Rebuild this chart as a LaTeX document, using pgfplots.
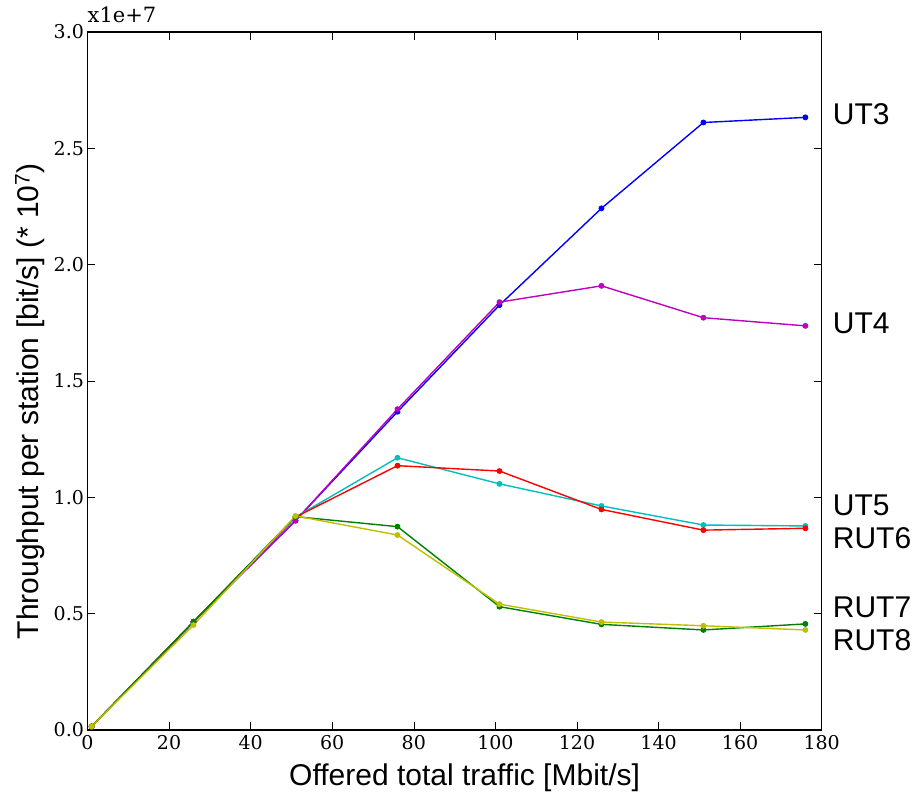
\documentclass[border=0pt]{standalone}
\usepackage{fontspec}
\setmainfont{Liberation Sans}
\newfontfamily\tickfont{DejaVu Serif}
\usepackage{pgfplots}
\pgfplotsset{compat=1.18}
\definecolor{mplb}{rgb}{0,0,1}
\definecolor{mplm}{rgb}{0.75,0,0.75}
\definecolor{mplc}{rgb}{0,0.75,0.75}
\definecolor{mplr}{rgb}{1,0,0}
\definecolor{mplg}{rgb}{0,0.5,0}
\definecolor{mply}{rgb}{0.75,0.75,0}
\begin{document}
\begin{tikzpicture}
\begin{axis}[
  scale only axis,
  width=734.2pt, height=698pt,
  xmin=0, xmax=180, ymin=0, ymax=3.0,
  xtick={0,20,...,180},
  ytick={0,0.5,1.0,1.5,2.0,2.5,3.0},
  yticklabel style={/pgf/number format/fixed,/pgf/number format/fixed zerofill,/pgf/number format/precision=1},
  /pgf/number format/assume math mode=true,
  tick label style={font=\tickfont\fontsize{19}{22}\selectfont, text=black},
  tick align=inside,
  major tick length=8pt,
  tick style={black, line width=0.6pt},
  axis line style={black, line width=1.3pt},
  xticklabel style={yshift=-2pt},
  label style={font=\fontsize{30}{34}\selectfont},
  xlabel={Offered total traffic [Mbit/s]},
  ylabel={Throughput per station [bit/s] (* 10\textsuperscript{7})},
  xlabel style={at={(axis description cs:0.5136,-0.0802)}, anchor=base},
  ylabel style={at={(axis description cs:-0.0783,0.471)}, anchor=center},
  clip=false,
  every axis plot/.append style={line width=1.4pt, mark=*, mark size=2.2pt},
]
\addplot[color=mplb, mark options={fill=mplb}] coordinates {(1,0.015) (26,0.465) (51,0.900) (76,1.368) (101,1.826) (126,2.242) (151,2.611) (176,2.633)};
\addplot[color=mplm, mark options={fill=mplm}] coordinates {(1,0.015) (26,0.465) (51,0.900) (76,1.379) (101,1.839) (126,1.909) (151,1.772) (176,1.737)};
\addplot[color=mplc, mark options={fill=mplc}] coordinates {(1,0.015) (26,0.465) (51,0.915) (76,1.170) (101,1.058) (126,0.963) (151,0.881) (176,0.877)};
\addplot[color=mplr, mark options={fill=mplr}] coordinates {(1,0.015) (26,0.465) (51,0.915) (76,1.136) (101,1.113) (126,0.948) (151,0.859) (176,0.867)};
\addplot[color=mplg, mark options={fill=mplg}] coordinates {(1,0.015) (26,0.465) (51,0.917) (76,0.874) (101,0.530) (126,0.454) (151,0.430) (176,0.456)};
\addplot[color=mply, mark options={fill=mply}] coordinates {(1,0.015) (26,0.451) (51,0.920) (76,0.838) (101,0.541) (126,0.464) (151,0.448) (176,0.430)};
\node[anchor=base west, inner sep=0pt, font=\tickfont\fontsize{21}{24}\selectfont] at ([yshift=9pt]rel axis cs:0,1) {x1e+7};
\begin{scope}[every node/.style={anchor=west, inner sep=0pt, font=\fontsize{30}{34}\selectfont}]
\node at ([xshift=11pt]axis cs:180,2.647) {UT3};
\node at ([xshift=11pt]axis cs:180,1.749) {UT4};
\node at ([xshift=11pt]axis cs:180,0.967) {UT5};
\node at ([xshift=11pt]axis cs:180,0.825) {RUT6};
\node at ([xshift=11pt]axis cs:180,0.529) {RUT7};
\node at ([xshift=11pt]axis cs:180,0.387) {RUT8};
\end{scope}
\end{axis}
\pgfresetboundingbox
\useasboundingbox ([xshift=-87.5pt,yshift=-62pt]current axis.south west) rectangle ([xshift=94.3pt,yshift=32pt]current axis.north east);
\end{tikzpicture}
\end{document}
